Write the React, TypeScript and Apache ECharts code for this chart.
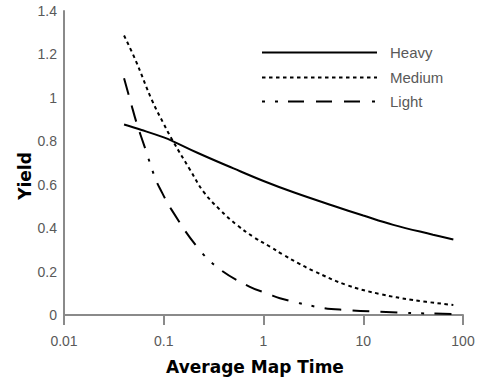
import React, { useEffect, useRef } from "react";
import * as echarts from "echarts";

const heavyX = [0.04, 0.06, 0.1, 0.124, 0.22, 0.5, 1, 2, 5, 10, 20, 50, 80];
const heavyY = [0.877, 0.852, 0.818, 0.80, 0.746, 0.675, 0.617, 0.565, 0.503, 0.458, 0.415, 0.37, 0.348];

const mediumX = [0.04, 0.052, 0.076, 0.1, 0.124, 0.184, 0.25, 0.367, 0.54, 0.79, 1.16, 1.57, 2.2, 3.14, 6.8, 14.6, 31.6, 80];
const mediumY = [1.287, 1.175, 0.99, 0.88, 0.8, 0.668, 0.568, 0.484, 0.415, 0.36, 0.315, 0.278, 0.24, 0.204, 0.138, 0.097, 0.069, 0.046];

const lightX = [0.04, 0.047, 0.053, 0.065, 0.081, 0.091, 0.12, 0.215, 0.355, 0.73, 1.12, 1.46, 3.67, 6.8, 14.6, 36, 80];
const lightY = [1.09, 0.975, 0.89, 0.768, 0.637, 0.585, 0.484, 0.315, 0.215, 0.13, 0.097, 0.077, 0.035, 0.023, 0.015, 0.008, 0.005];

const seriesNames = ["Heavy", "Medium", "Light"];
const xTitle = "Average Map Time";
const yTitle = "Yield";

const zip = (xs: number[], ys: number[]) => xs.map((x, i) => [x, ys[i]]);

const heavyDash: any = "solid";
const mediumDash = [3.5, 3.5];
const lightDash = [17, 11, 17, 11, 17, 11, 3, 10, 3, 10];
const lightLegendDash = [3, 10, 3, 10, 16, 12, 16, 12, 16, 12];

export default function App() {
  const ref = useRef<HTMLDivElement>(null);
  useEffect(() => {
    if (!ref.current) return;
    const chart = echarts.init(ref.current, undefined, { renderer: "svg" });
    const axisColor = "#8a8a8a";
    const labelColor = "#595959";
    const font = "Liberation Sans, Arial, sans-serif";
    const baseLine = {
      type: "line" as const,
      smooth: 0.4,
      symbol: "none",
      showSymbol: false,
      color: "#000",
    };
    const legendRows = [52.5, 77.5, 101.5];
    const legendDashes: any[] = [null, mediumDash, lightLegendDash];
    const legendGraphics: any[] = [];
    seriesNames.forEach((name, i) => {
      legendGraphics.push({
        type: "line",
        shape: { x1: 262, y1: legendRows[i], x2: 377, y2: legendRows[i] },
        style: {
          stroke: "#000",
          lineWidth: 2,
          lineDash: legendDashes[i] || undefined,
        },
      });
      legendGraphics.push({
        type: "text",
        x: 390,
        y: legendRows[i],
        style: {
          text: name,
          fontFamily: font,
          fontSize: 15,
          fill: labelColor,
          textAlign: "left",
          textVerticalAlign: "middle",
        },
      });
    });
    chart.setOption({
      animation: false,
      grid: { left: 64, right: 18, top: 11, bottom: 66, containLabel: false },
      xAxis: {
        type: "log",
        logBase: 10,
        min: 0.01,
        max: 100,
        axisLine: { show: true, onZero: false, lineStyle: { color: axisColor, width: 2 } },
        axisTick: { show: true, inside: false, length: 10, lineStyle: { color: axisColor, width: 2 } },
        minorTick: { show: false },
        splitLine: { show: false },
        axisLabel: { color: labelColor, fontSize: 14, fontFamily: font, margin: 19 },
      },
      yAxis: {
        type: "value",
        min: 0,
        max: 1.4,
        interval: 0.2,
        axisLine: { show: true, lineStyle: { color: axisColor, width: 2 } },
        axisTick: { show: false },
        splitLine: { show: false },
        axisLabel: { color: labelColor, fontSize: 14, fontFamily: font, margin: 7 },
      },
      graphic: [
        {
          type: "text",
          x: 255,
          y: 367,
          style: {
            text: xTitle,
            fontFamily: "DejaVu Sans",
            fontWeight: "bold",
            fontSize: 17,
            fill: "#000",
            textAlign: "center",
            textVerticalAlign: "middle",
          },
        },
        {
          type: "text",
          x: 25,
          y: 176,
          rotation: Math.PI / 2,
          style: {
            text: yTitle,
            fontFamily: "DejaVu Sans",
            fontWeight: "bold",
            fontSize: 17,
            fill: "#000",
            textAlign: "center",
            textVerticalAlign: "middle",
          },
        },
        ...legendGraphics,
      ],
      series: [
        {
          ...baseLine,
          name: seriesNames[0],
          data: zip(heavyX, heavyY),
          lineStyle: { color: "#000", width: 2, type: heavyDash },
        },
        {
          ...baseLine,
          name: seriesNames[1],
          data: zip(mediumX, mediumY),
          lineStyle: { color: "#000", width: 2, type: mediumDash },
        },
        {
          ...baseLine,
          name: seriesNames[2],
          data: zip(lightX, lightY),
          lineStyle: { color: "#000", width: 2, type: lightDash },
        },
      ],
    });
    return () => chart.dispose();
  }, []);
  return (
    <div
      ref={ref}
      style={{ position: "absolute", left: 0, top: 0, width: 481, height: 381, background: "#fff" }}
    />
  );
}
